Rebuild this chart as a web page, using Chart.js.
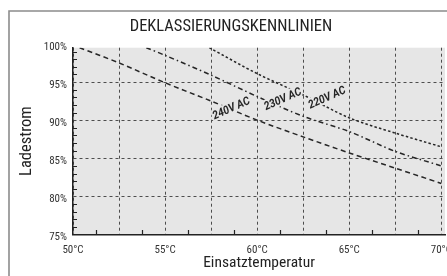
<!DOCTYPE html>
<html><head><meta charset="utf-8">
<script src="https://cdn.jsdelivr.net/npm/chart.js@4.4.1/dist/chart.umd.min.js"></script>
<style>html,body{margin:0;padding:0;background:#fff;}#wrap{width:447px;height:276px;}</style>
</head><body><div id="wrap"><canvas id="c" width="447" height="276"></canvas></div>
<script>
const chartTitle = 'DEKLASSIERUNGSKENNLINIEN';
const xTitle = 'Einsatztemperatur';
const yTitle = 'Ladestrom';
const seriesNames = ['240V AC', '230V AC', '220V AC'];
const temps240 = [50.36, 52.5, 55, 57.5, 60, 62.5, 65, 67.5, 70];
const vals240  = [99.5, 97.5, 94.9, 92.5, 90.0, 87.8, 85.7, 83.7, 81.7];
const temps230 = [53.98, 55, 57.5, 60, 62.5, 65, 67.5, 70];
const vals230  = [99.5, 98.5, 95.9, 93.1, 90.5, 88.5, 85.9, 84.0];
const temps220 = [57.4, 60, 62.5, 65, 67.5, 70];
const vals220  = [99.5, 96.1, 93.3, 90.3, 88.3, 86.5];
const xGridValues = [50, 52.5, 55, 57.5, 60, 62.5, 65, 67.5, 70];
const xTickValues = [50, 55, 60, 65, 70];
const yTickValues = [75, 80, 85, 90, 95, 100];
const xMinorValues = [51.25, 53.75, 56.25, 58.75, 61.25, 63.75, 66.25, 68.75];
const yMinorValues = [76, 77, 78, 79, 81, 82, 83, 84, 86, 87, 88, 89, 91, 92, 93, 94, 96, 97, 98, 99];
const labelTemps = [58.6, 61.4, 63.8];
const labelVals  = [91.5, 92.7, 92.9];

const pts = (t, v) => t.map((x, i) => ({x: x, y: v[i]}));
const LINE = '#262626';
const GRID = '#4d4d4d';
const PLOT_BG = '#e6e6e6';
const FONT = "'Liberation Sans Narrow', 'Roboto Condensed', 'Arial Narrow', Roboto, sans-serif";

const framePlugin = {
  id: 'frame',
  beforeDraw(chart) {
    const {ctx, chartArea: a, width, height} = chart;
    ctx.save();
    ctx.fillStyle = '#ffffff';
    ctx.fillRect(0, 0, width, height);
    ctx.strokeStyle = '#8c8c8c';
    ctx.lineWidth = 1.6;
    ctx.beginPath();
    ctx.moveTo(9, height);
    ctx.lineTo(9, 11);
    ctx.lineTo(width, 11);
    ctx.stroke();
    ctx.fillStyle = PLOT_BG;
    ctx.fillRect(a.left, a.top, a.right - a.left, a.bottom - a.top);
    ctx.restore();
  },
  afterDraw(chart) {
    const {ctx, scales: {x, y}} = chart;
    ctx.save();
    ctx.strokeStyle = '#222';
    ctx.lineWidth = 1.2;
    ctx.beginPath();
    xMinorValues.forEach(v => {
      const px = Math.round(x.getPixelForValue(v)) + 0.5;
      ctx.moveTo(px, y.bottom); ctx.lineTo(px, y.bottom - 4.5);
    });
    yMinorValues.forEach(v => {
      const py = Math.round(y.getPixelForValue(v)) + 0.5;
      ctx.moveTo(x.left, py); ctx.lineTo(x.left + 4, py);
    });
    ctx.stroke();
    ctx.restore();
  },
  afterDatasetsDraw(chart) {
    const {ctx, scales: {x, y}} = chart;
    ctx.save();
    seriesNames.forEach((name, i) => {
      const px = x.getPixelForValue(labelTemps[i]);
      const py = y.getPixelForValue(labelVals[i]);
      ctx.save();
      ctx.translate(px, py);
      ctx.rotate(-24 * Math.PI / 180);
      ctx.scale(0.9, 1);
      ctx.font = "italic bold 11.5px Roboto";
      ctx.textAlign = 'center';
      ctx.textBaseline = 'middle';
      ctx.strokeStyle = PLOT_BG;
      ctx.lineWidth = 4;
      ctx.lineJoin = 'round';
      ctx.strokeText(name, 0, 0);
      ctx.fillStyle = '#262626';
      ctx.fillText(name, 0, 0);
      ctx.restore();
    });
    ctx.restore();
  }
};

new Chart(document.getElementById('c'), {
  type: 'line',
  data: {
    datasets: [
      {label: seriesNames[0], data: pts(temps240, vals240), borderColor: LINE, borderWidth: 1.5, borderDash: [5, 3.5], pointRadius: 0, tension: 0.3, fill: false},
      {label: seriesNames[1], data: pts(temps230, vals230), borderColor: LINE, borderWidth: 1.5, borderDash: [5, 3, 1.5, 3], pointRadius: 0, tension: 0.3, fill: false},
      {label: seriesNames[2], data: pts(temps220, vals220), borderColor: LINE, borderWidth: 1.5, borderDash: [2.5, 2.2], pointRadius: 0, tension: 0.3, fill: false}
    ]
  },
  options: {
    responsive: false,
    animation: false,
    devicePixelRatio: 1,
    layout: {padding: {left: 17, right: 2, top: 0, bottom: 0}},
    plugins: {
      legend: {display: false},
      tooltip: {enabled: false},
      title: {display: true, text: chartTitle, color: '#222', font: {family: FONT, size: 16.5, weight: 'normal', lineHeight: 1.2}, padding: {top: 17, bottom: 10.9}}
    },
    scales: {
      x: {
        type: 'linear', min: 50, max: 70.2,
        afterFit: s => { s.paddingLeft = 0; s.paddingRight = 0; s.height = 41.5; },
        afterBuildTicks: s => { s.ticks = xGridValues.map(v => ({value: v})); },
        ticks: {autoSkip: false, maxRotation: 0, includeBounds: false, padding: 9, color: '#333', font: {family: FONT, size: 11},
          callback: v => xTickValues.includes(v) ? v + '°C' : ''},
        grid: {color: GRID, lineWidth: 1, drawTicks: false},
        border: {display: true, color: '#222', width: 1.5, dash: [3, 3]},
        title: {display: true, text: xTitle, color: '#222', font: {family: FONT, size: 15.5, weight: 'normal'}, padding: {top: 0, bottom: 4}}
      },
      y: {
        min: 75, max: 99.5,
        afterFit: s => { s.width = 56; s.paddingTop = 0; s.paddingBottom = 0; },
        afterBuildTicks: s => { s.ticks = yTickValues.map(v => ({value: v})); },
        ticks: {autoSkip: false, padding: 6, labelOffset: 3, color: '#333', font: {family: FONT, size: 11}, callback: v => v + '%'},
        grid: {color: c => (c.tick && c.tick.value === 100) ? 'rgba(0,0,0,0)' : GRID, lineWidth: 1, drawTicks: false},
        border: {display: true, color: '#222', width: 1.5, dash: [3, 3]},
        title: {display: true, text: yTitle, color: '#222', font: {family: FONT, size: 16.5, weight: 'normal'}, padding: {top: 0, bottom: 0}}
      }
    }
  },
  plugins: [framePlugin]
});
</script>
</body></html>
